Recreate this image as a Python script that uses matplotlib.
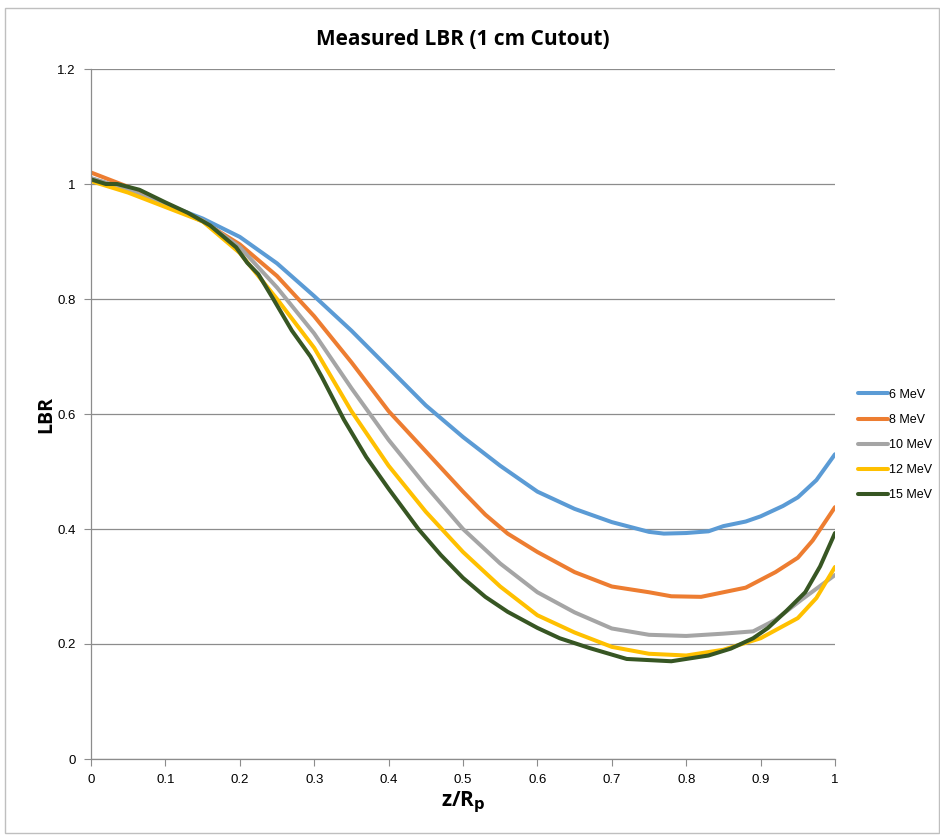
import matplotlib
matplotlib.use("Agg")
import matplotlib.pyplot as plt
from matplotlib.patches import Rectangle

plt.rcParams['font.family'] = ['Liberation Sans Narrow', 'Liberation Sans', 'DejaVu Sans']

labels = ["6 MeV", "8 MeV", "10 MeV", "12 MeV", "15 MeV"]
colors = ["#5B9BD5", "#ED7D31", "#A5A5A5", "#FFC000", "#375623"]

x_6 = [0, 0.025, 0.05, 0.1, 0.15, 0.2, 0.25, 0.3, 0.35, 0.4, 0.45, 0.5, 0.55, 0.6,
       0.65, 0.7, 0.75, 0.77, 0.8, 0.83, 0.85, 0.88, 0.9, 0.93, 0.95, 0.975, 1.0]
y_6 = [1.01, 1.0, 0.99, 0.965, 0.94, 0.908, 0.862, 0.805, 0.745, 0.68, 0.615, 0.56, 0.51, 0.465,
       0.435, 0.412, 0.395, 0.392, 0.393, 0.396, 0.405, 0.413, 0.422, 0.44, 0.455, 0.485, 0.53]

x_8 = [0, 0.05, 0.1, 0.15, 0.2, 0.25, 0.3, 0.35, 0.4, 0.45, 0.5, 0.53, 0.56, 0.6, 0.65, 0.7,
       0.75, 0.78, 0.82, 0.85, 0.88, 0.92, 0.95, 0.97, 1.0]
y_8 = [1.02, 0.995, 0.965, 0.935, 0.895, 0.84, 0.77, 0.69, 0.605, 0.535, 0.465, 0.425, 0.392, 0.36, 0.325, 0.30,
       0.29, 0.283, 0.282, 0.29, 0.298, 0.325, 0.35, 0.38, 0.438]

x_10 = [0, 0.05, 0.1, 0.15, 0.2, 0.25, 0.3, 0.35, 0.4, 0.45, 0.5, 0.55, 0.6, 0.65, 0.7,
        0.75, 0.8, 0.85, 0.89, 0.92, 0.955, 1.0]
y_10 = [1.01, 0.99, 0.963, 0.937, 0.89, 0.82, 0.74, 0.645, 0.555, 0.475, 0.40, 0.34, 0.29, 0.255, 0.227,
        0.216, 0.214, 0.218, 0.222, 0.242, 0.277, 0.32]

x_12 = [0, 0.05, 0.1, 0.15, 0.2, 0.25, 0.3, 0.35, 0.4, 0.45, 0.5, 0.55, 0.6, 0.65, 0.7,
        0.75, 0.8, 0.85, 0.9, 0.95, 0.975, 1.0]
y_12 = [1.005, 0.985, 0.96, 0.935, 0.88, 0.80, 0.715, 0.605, 0.51, 0.43, 0.36, 0.30, 0.25, 0.22, 0.195,
        0.183, 0.18, 0.19, 0.21, 0.245, 0.28, 0.334]

x_15 = [0, 0.02, 0.035, 0.065, 0.1, 0.13, 0.16, 0.195, 0.21, 0.225, 0.245, 0.27, 0.295, 0.31,
        0.34, 0.37, 0.4, 0.44, 0.47, 0.5, 0.53, 0.56, 0.6, 0.63, 0.67, 0.72, 0.78, 0.83, 0.86,
        0.89, 0.91, 0.935, 0.96, 0.98, 1.0]
y_15 = [1.008, 1.0, 1.0, 0.99, 0.968, 0.95, 0.928, 0.89, 0.863, 0.843, 0.80, 0.745, 0.70, 0.665,
        0.59, 0.525, 0.47, 0.40, 0.355, 0.315, 0.282, 0.256, 0.228, 0.21, 0.193, 0.174, 0.17, 0.18, 0.192,
        0.21, 0.228, 0.258, 0.29, 0.335, 0.393]

series_x = [x_6, x_8, x_10, x_12, x_15]
series_y = [y_6, y_8, y_10, y_12, y_15]

fig = plt.figure(figsize=(9.4, 8.35), dpi=100)
ax = fig.add_axes([91/940, 1-759/835, (835-91)/940, (759-69)/835])

for xs, ys, c, lab in zip(series_x, series_y, colors, labels):
    ax.plot(xs, ys, color=c, lw=2.9, label=lab, solid_capstyle='round', solid_joinstyle='round')

ax.set_xlim(0, 1)
ax.set_ylim(0, 1.2)
ax.set_xticks([i/10 for i in range(11)])
ax.set_xticklabels(["0", "0.1", "0.2", "0.3", "0.4", "0.5", "0.6", "0.7", "0.8", "0.9", "1"])
ax.set_yticks([0, 0.2, 0.4, 0.6, 0.8, 1.0, 1.2])
ax.set_yticklabels(["0", "0.2", "0.4", "0.6", "0.8", "1", "1.2"])
ax.yaxis.grid(True, color="#8C8C8C", lw=0.9)
ax.set_axisbelow(True)
for s in ["top", "right"]:
    ax.spines[s].set_visible(False)
for s in ["left", "bottom"]:
    ax.spines[s].set_color("#8C8C8C")
    ax.spines[s].set_linewidth(0.9)
ax.tick_params(axis='x', direction='out', length=5, color="#8C8C8C", labelsize=9.5, pad=6)
ax.tick_params(axis='y', direction='out', length=5, color="#8C8C8C", labelsize=9.5, pad=6)

ax.set_title("Measured LBR (1 cm Cutout)", fontsize=15, fontweight='bold', pad=17,
             family=['Open Sans', 'DejaVu Sans'])
ax.set_xlabel(r"z/R$_\mathbf{p}$", fontsize=15, fontweight='bold', labelpad=2,
              family=['Open Sans', 'DejaVu Sans'])
ax.set_ylabel("LBR", fontsize=14, fontweight='bold', labelpad=1,
              family=['Open Sans', 'DejaVu Sans'])

leg = ax.legend(loc='center left', bbox_to_anchor=(1.016, 0.455), frameon=False,
                fontsize=9, handlelength=2.4, handletextpad=0.1, labelspacing=1.05)

fig.patches.append(Rectangle((5/940, 1-833/835), 934/940, (833-8)/835, transform=fig.transFigure,
                             fill=False, edgecolor="#BFBFBF", lw=1))

fig.savefig("out.png", dpi=100)
